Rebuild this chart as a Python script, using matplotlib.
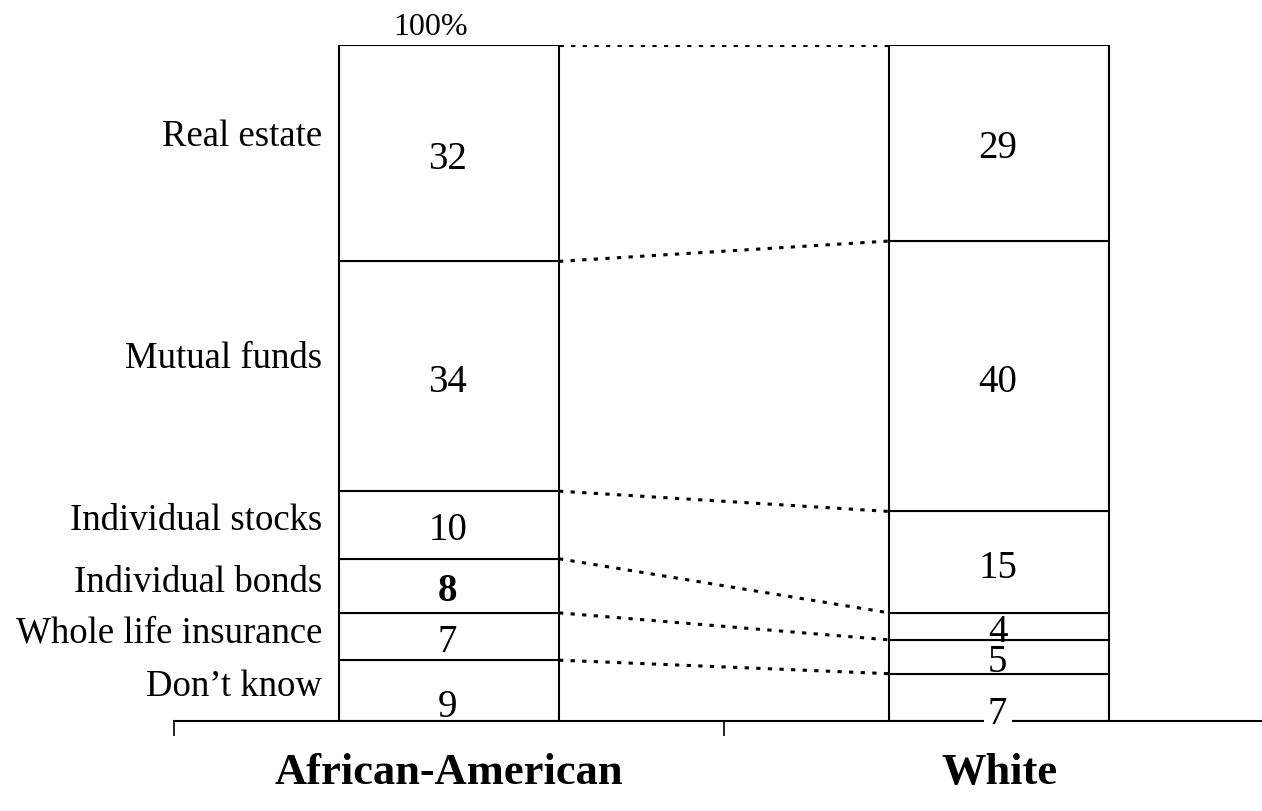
import numpy as np
import matplotlib
matplotlib.use("Agg")
import matplotlib.pyplot as plt

plt.rcParams['font.family'] = ['Liberation Serif', 'DejaVu Serif']

# data (percent of investors, stacked bottom -> top)
groups = ['African-American', 'White']
categories = ['Don’t know', 'Whole life insurance', 'Individual bonds',
              'Individual stocks', 'Mutual funds', 'Real estate']
aa_values = [9, 7, 8, 10, 34, 32]
white_values = [7, 5, 4, 15, 40, 29]
top_label = '100%'

series = [aa_values, white_values]
bar_w = 0.4

fig = plt.figure(figsize=(12.62, 8.12), dpi=100)
ax = fig.add_axes([174 / 1262, 90 / 812, 1100 / 1262, 676 / 812])

cums = []
for gi, vals in enumerate(series):
    bottoms = np.concatenate([[0], np.cumsum(vals)[:-1]])
    cums.append(np.cumsum(vals))
    for i, (v, b) in enumerate(zip(vals, bottoms)):
        ax.bar(gi, v, bottom=b, width=bar_w, color='white',
               edgecolor='black', linewidth=1.5)
        # number inside the segment
        dy = -11.5 if i == 0 else -3.5
        bold = (gi == 0 and categories[i] == 'Individual bonds')
        box = None
        if gi == 1 and i == 0:
            box = dict(facecolor='white', edgecolor='none', pad=3)
        ax.annotate(str(v), xy=(gi, b + v / 2), xytext=(-1, dy),
                    textcoords='offset points', ha='center', va='center',
                    fontsize=28, fontweight='bold' if bold else 'normal',
                    bbox=box, zorder=5)
        # category names on the left of the first bar
        if gi == 0:
            ax.annotate(categories[i], xy=(-bar_w / 2, b + 0.58 * v),
                        xytext=(-12, 0), textcoords='offset points',
                        ha='right', va='center', fontsize=26.5)

# dotted connectors between matching boundaries
for a, w in zip(cums[0], cums[1]):
    ax.plot([bar_w / 2, 1 - bar_w / 2], [a, w], color='black', lw=2.2,
            linestyle=(0, (1.4, 2.4)), dash_capstyle='butt', zorder=1)

ax.annotate(top_label, xy=(0, cums[0][-1]), xytext=(-13, 8),
            textcoords='offset points', ha='center', va='baseline',
            fontsize=23)

ax.set_xlim(-0.5, 1.5)
ax.set_ylim(0, 100)
for s in ['top', 'left', 'right']:
    ax.spines[s].set_visible(False)
ax.spines['bottom'].set_linewidth(1.5)
ax.set_yticks([])
ax.set_xticks([-0.5, 0.5, 1.5])
ax.tick_params(axis='x', which='major', direction='out', length=11,
               width=1.2, labelbottom=False)
ax.set_xticks([0, 1], groups, minor=True, fontsize=32, fontweight='bold')
ax.tick_params(axis='x', which='minor', length=0, pad=22)

fig.savefig('out.png', dpi=100)
